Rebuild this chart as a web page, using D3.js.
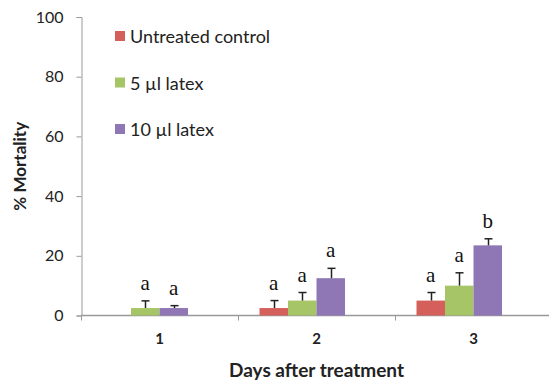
<!DOCTYPE html>
<html>
<head>
<meta charset="utf-8">
<script src="https://cdn.jsdelivr.net/npm/d3@7"></script>
<style>
  body { margin: 0; background: #fff; }
  svg { display: block; }
  .lbl { font-family: Lato, "Open Sans", sans-serif; fill: #222; }
  .sig { font-family: "Liberation Serif", "DejaVu Serif", serif; fill: #111; }
</style>
</head>
<body>
<svg id="chart"></svg>
<script>
// Data
const days = ['1', '2', '3'];
const seriesNames = ['Untreated control', '5 \u00b5l latex', '10 \u00b5l latex'];
const seriesColors = ['#d5605b', '#a6c566', '#8f77b6'];
// mortality (%) per day, one array per series
const control = [0, 2.5, 5];
const latex5 = [2.5, 5, 10];
const latex10 = [2.5, 12.5, 23.5];
// error bar sizes
const controlErr = [0, 2.5, 2.7];
const latex5Err = [2.4, 2.7, 4.3];
const latex10Err = [0.8, 3.3, 2.2];
// significance letters
const controlSig = ['', 'a', 'a'];
const latex5Sig = ['a', 'a', 'a'];
const latex10Sig = ['a', 'a', 'b'];
const yTicks = [0, 20, 40, 60, 80, 100];

const seriesValues = [control, latex5, latex10];
const seriesErr = [controlErr, latex5Err, latex10Err];
const seriesSig = [controlSig, latex5Sig, latex10Sig];

// flat table for drawing
let rows = [];
days.forEach((d, i) => {
    seriesValues.forEach((vals, s) => {
        rows.push({day: d, s: s, value: vals[i], err: seriesErr[s][i], sig: seriesSig[s][i]});
    });
});

// Canvas
let width = 549;
let height = 381;
let margin = {left: 81, top: 17, bottom: 65, right: -3};

let svg = d3.select('#chart')
    .attr('width', width)
    .attr('height', height);

// Scales
let x0 = d3.scaleBand()
    .domain(days)
    .range([margin.left, width - margin.right])
    .paddingInner(0.274)
    .paddingOuter(0.137);

// Excel leaves room for a fourth (empty) slot in each group
let x1 = d3.scaleBand()
    .domain([0, 1, 2, 3])
    .range([0, x0.bandwidth()]);

let yScale = d3.scaleLinear()
    .domain([0, 100])
    .range([height - margin.bottom - 0.5, margin.top]);

// Axes
let yAxis = d3.axisLeft(yScale).tickValues(yTicks).tickSize(5).tickPadding(13);
let gY = svg.append('g')
    .attr('transform', 'translate(' + (margin.left + 0.5) + ',0)')
    .call(yAxis);
gY.select('.domain').attr('stroke', '#999');
gY.selectAll('.tick line').attr('stroke', '#999');
gY.selectAll('.tick text')
    .attr('class', 'lbl')
    .style('font-size', '16px');

let xAxis = d3.axisBottom(x0).tickSize(0).tickPadding(18);
let gX = svg.append('g')
    .attr('transform', 'translate(0,' + (yScale(0)) + ')')
    .call(xAxis);
gX.select('.domain').attr('stroke', '#999').attr('stroke-width', 1.5).attr('d', 'M' + margin.left + ',0H' + width);
gX.selectAll('.tick text')
    .attr('class', 'lbl')
    .style('font-size', '15px')
    .style('font-weight', 'bold');

// x ticks between categories
let step = x0.step();
let boundaries = days.map((d, i) => margin.left + i * step);
svg.append('g').selectAll('line')
    .data(boundaries)
    .enter()
    .append('line')
    .attr('x1', d => Math.round(d) + 0.5)
    .attr('x2', d => Math.round(d) + 0.5)
    .attr('y1', yScale(0))
    .attr('y2', yScale(0) + 5)
    .attr('stroke', '#999');

// Bars
let bars = svg.append('g');
bars.selectAll('rect')
    .data(rows.filter(r => r.value > 0))
    .enter()
    .append('rect')
    .attr('x', r => x0(r.day) + x1(r.s))
    .attr('y', r => yScale(r.value))
    .attr('width', x1.bandwidth())
    .attr('height', r => yScale(0) - yScale(r.value))
    .attr('fill', r => seriesColors[r.s]);

// Error bars (upper only)
let errs = svg.append('g').attr('stroke', '#222').attr('stroke-width', 1.5);
rows.filter(r => r.err > 0).forEach(r => {
    let cx = Math.round(x0(r.day) + x1(r.s) + x1.bandwidth() / 2) + 0.5;
    errs.append('line')
        .attr('x1', cx).attr('x2', cx)
        .attr('y1', yScale(r.value))
        .attr('y2', yScale(r.value + r.err));
    errs.append('line')
        .attr('x1', cx - 4).attr('x2', cx + 4)
        .attr('y1', yScale(r.value + r.err))
        .attr('y2', yScale(r.value + r.err));
});

// Significance letters
svg.append('g').selectAll('text')
    .data(rows.filter(r => r.sig))
    .enter()
    .append('text')
    .attr('class', 'sig')
    .attr('x', r => x0(r.day) + x1(r.s) + x1.bandwidth() / 2)
    .attr('y', r => yScale(r.value + r.err) - 11)
    .attr('text-anchor', 'middle')
    .style('font-size', '21px')
    .text(r => r.sig);

// Legend
let legend = svg.append('g').attr('transform', 'translate(115,31)');
seriesNames.forEach((name, i) => {
    let g = legend.append('g').attr('transform', 'translate(0,' + (i * 46.5) + ')');
    g.append('rect')
        .attr('width', 10)
        .attr('height', 10)
        .attr('fill', seriesColors[i]);
    g.append('text')
        .attr('class', 'lbl')
        .attr('x', 15)
        .attr('y', 12)
        .style('font-size', '18px')
        .text(name);
});

// Axis titles
svg.append('text')
    .attr('class', 'lbl')
    .attr('x', (margin.left + width - margin.right) / 2)
    .attr('y', 377)
    .attr('text-anchor', 'middle')
    .style('font-size', '19px')
    .style('font-weight', 'bold')
    .text('Days after treatment');

svg.append('text')
    .attr('class', 'lbl')
    .attr('transform', 'translate(26,' + ((yScale(0) + yScale(100)) / 2) + ') rotate(-90)')
    .attr('text-anchor', 'middle')
    .style('font-size', '17px')
    .style('font-weight', 'bold')
    .text('% Mortality');
</script>
</body>
</html>
